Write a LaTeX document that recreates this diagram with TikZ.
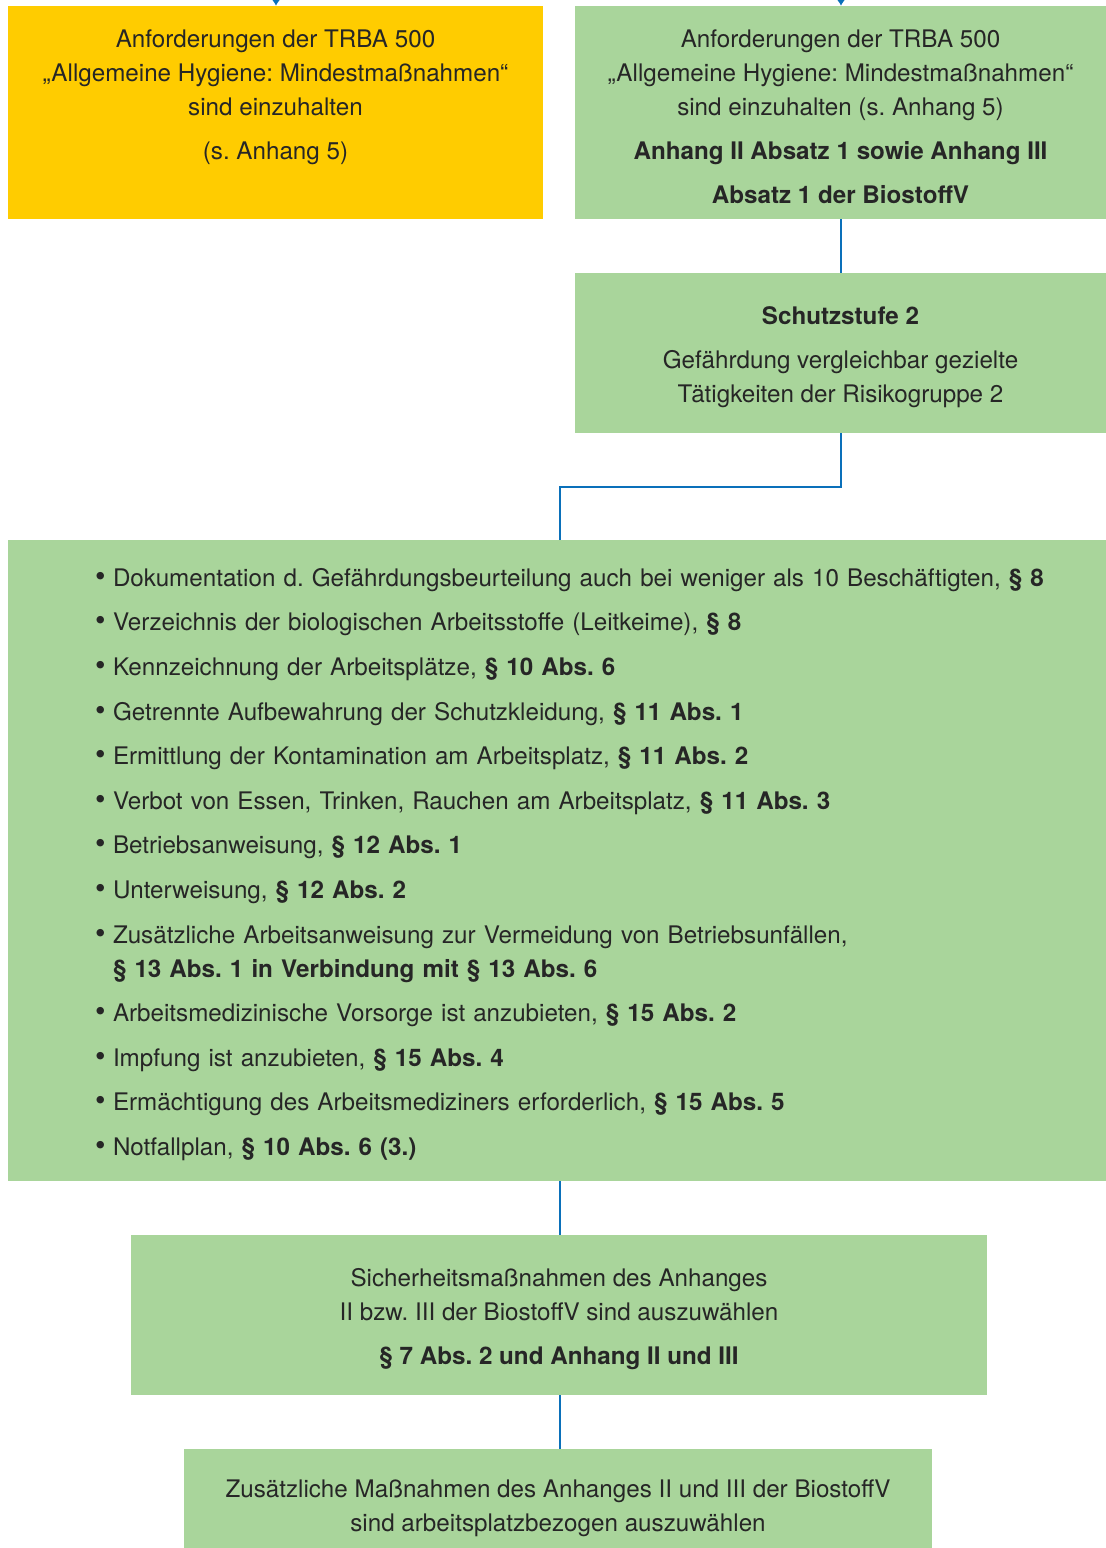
\documentclass[tikz,border=0pt]{standalone}
\usepackage{fontspec}
\setmainfont{TeX Gyre Heros}
\usetikzlibrary{arrows.meta,positioning}
\frenchspacing

\definecolor{boxyellow}{HTML}{FFCC00}
\definecolor{boxgreen}{HTML}{A9D59B}
\definecolor{linkblue}{HTML}{0A70BA}
\newcommand{\bitem}[1]{\makebox[18pt][l]{\fontsize{30}{34}\selectfont\textbullet}\mbox{#1}}
\newcommand{\boxtop}{\rule{0pt}{26pt}}

\begin{document}
\begin{tikzpicture}[
	x=1pt, y=-1pt,
	every node/.style={font=\fontsize{24.2}{34}\selectfont, text=black!85},
	box/.style={rectangle, inner sep=0pt, align=center},
	yellowbox/.style={box, fill=boxyellow},
	greenbox/.style={box, fill=boxgreen},
	link/.style={draw=linkblue, line width=1.6pt}
	]
\useasboundingbox (0,0) rectangle (1106,1548);

% Top boxes
\node [yellowbox, minimum width=535pt, minimum height=213pt] (trba yellow) at (275.5,112.5) {\boxtop Anforderungen der TRBA 500\\ „Allgemeine Hygiene: Mindestmaßnahmen“\\ sind einzuhalten\\[10pt] (s. Anhang 5)\\[10pt] \mbox{}};
\node [greenbox, minimum width=531pt, minimum height=213pt] (trba green) at (840.5,112.5) {\boxtop Anforderungen der TRBA 500\\ „Allgemeine Hygiene: Mindestmaßnahmen“\\ sind einzuhalten (s. Anhang 5)\\[10pt] \textbf{Anhang II Absatz 1 sowie Anhang III}\\[10pt] \textbf{Absatz 1 der BiostoffV}};

\coordinate (from yellow) at (276,-12);
\coordinate (from green) at (841,-12);
\draw[link, -{Latex[length=6pt,width=8pt]}] (from yellow) -- (trba yellow.north -| from yellow);
\draw[link, -{Latex[length=6pt,width=8pt]}] (from green) -- (trba green.north -| from green);

% Schutzstufe
\node [greenbox, minimum width=531pt, minimum height=160pt] (schutzstufe) at (840.5,353) {\boxtop\textbf{Schutzstufe 2}\\[10pt] Gefährdung vergleichbar gezielte\\ Tätigkeiten der Risikogruppe 2};
\draw[link] (trba green.south -| from green) -- (schutzstufe.north -| from green);

% Massnahmen
\node [greenbox, minimum width=1098pt, minimum height=641pt, text width=924pt, align=left] (massnahmen) at (557,860.5) {%
\boxtop\bitem{Dokumentation d. Gefährdungsbeurteilung auch bei weniger als 10 Beschäftigten, \textbf{§ 8}}\\[10.6pt]
\bitem{Verzeichnis der biologischen Arbeitsstoffe (Leitkeime), \textbf{§ 8}}\\[10.6pt]
\bitem{Kennzeichnung der Arbeitsplätze, \textbf{§ 10 Abs. 6}}\\[10.6pt]
\bitem{Getrennte Aufbewahrung der Schutzkleidung, \textbf{§ 11 Abs. 1}}\\[10.6pt]
\bitem{Ermittlung der Kontamination am Arbeitsplatz, \textbf{§ 11 Abs. 2}}\\[10.6pt]
\bitem{Verbot von Essen, Trinken, Rauchen am Arbeitsplatz, \textbf{§ 11 Abs. 3}}\\[10.6pt]
\bitem{Betriebsanweisung, \textbf{§ 12 Abs. 1}}\\[10.6pt]
\bitem{Unterweisung, \textbf{§ 12 Abs. 2}}\\[10.6pt]
\bitem{Zusätzliche Arbeitsanweisung zur Vermeidung von Betriebsunfällen,}\\
\hspace*{18pt}\textbf{§ 13 Abs. 1 in Verbindung mit § 13 Abs. 6}\\[10.6pt]
\bitem{Arbeitsmedizinische Vorsorge ist anzubieten, \textbf{§ 15 Abs. 2}}\\[10.6pt]
\bitem{Impfung ist anzubieten, \textbf{§ 15 Abs. 4}}\\[10.6pt]
\bitem{Ermächtigung des Arbeitsmediziners erforderlich, \textbf{§ 15 Abs. 5}}\\[10.6pt]
\bitem{Notfallplan, \textbf{§ 10 Abs. 6 (3.)}}};
\draw[link] (schutzstufe.south -| from green) -- ++(0,54) -| (massnahmen.north -| 560,0);

% Auswahl
\node [greenbox, minimum width=856pt, minimum height=160pt] (sicherheit) at (559,1315) {\boxtop Sicherheitsmaßnahmen des Anhanges\\ II bzw. III der BiostoffV sind auszuwählen\\[10pt] \textbf{§ 7 Abs. 2 und Anhang II und III}};
\node [greenbox, minimum width=748pt, minimum height=110pt] (zusatz) at (558,1504) {\boxtop Zusätzliche Maßnahmen des Anhanges II und III der BiostoffV\\ sind arbeitsplatzbezogen auszuwählen};

\draw[link] (massnahmen.south -| 560,0) -- (sicherheit.north -| 560,0);
\draw[link] (sicherheit.south -| 560,0) -- (zusatz.north -| 560,0);

\end{tikzpicture}
\end{document}
